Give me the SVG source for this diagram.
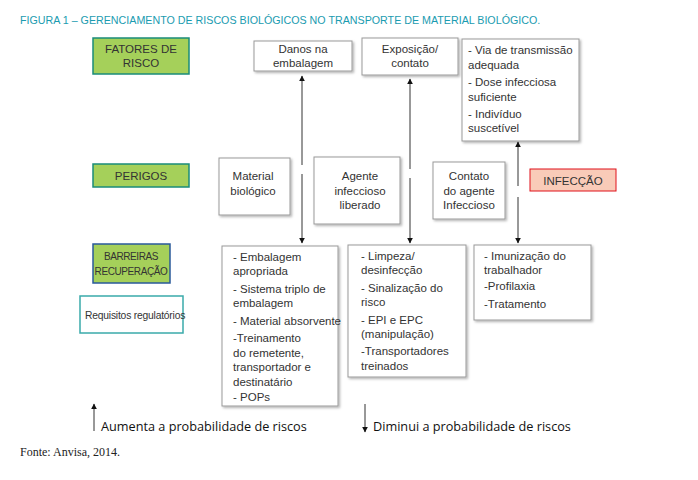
<svg xmlns="http://www.w3.org/2000/svg" width="698" height="480" viewBox="0 0 698 480">
<style>
text{font-family:"Liberation Sans",Arial,sans-serif;font-size:11.5px;fill:#333}
.b{fill:#fff;stroke:#999;stroke-width:1;filter:url(#sh)}
.g{fill:#a5d05a;stroke:#1a8c7a;stroke-width:1.5}
.c{text-anchor:middle}
.ln{stroke:#333;stroke-width:1;fill:none}
.lg{font-family:"Open Sans","Liberation Sans",sans-serif;font-size:12.7px;fill:#111}
</style>
<defs>
<filter id="sh" x="-10%" y="-10%" width="130%" height="130%"><feDropShadow dx="1.5" dy="1.5" stdDeviation="1" flood-color="#000" flood-opacity="0.3"/></filter>
<marker id="ah" viewBox="0 0 10 10" refX="9" refY="5" markerWidth="6" markerHeight="6" orient="auto-start-reverse"><path d="M0,0L10,5L0,10z" fill="#111"/></marker>
</defs>
<text x="20" y="24" style="fill:#1a9bb0;font-size:10.7px">FIGURA 1 – GERENCIAMENTO DE RISCOS BIOLÓGICOS NO TRANSPORTE DE MATERIAL BIOLÓGICO.</text>
<g id="fatores"><rect class="g" x="93" y="38" width="96" height="36"/><text class="c" x="141" y="53">FATORES DE</text><text class="c" x="141" y="67">RISCO</text></g>
<g id="perigos"><rect class="g" x="93" y="164" width="96" height="23"/><text class="c" x="141" y="180">PERIGOS</text></g>
<g id="barreiras"><rect x="93" y="244" width="77" height="39" fill="#a5d05a" stroke="#2a5a9a" stroke-width="1.5"/><text class="c" x="131" y="260" style="font-size:10px;letter-spacing:-0.4px">BARREIRAS</text><text class="c" x="131" y="275" style="font-size:10px;letter-spacing:-0.4px">RECUPERAÇÃO</text></g>
<g id="requisitos"><rect x="80" y="296" width="103" height="37" fill="#fff" stroke="#3aaaaa" stroke-width="1.5"/><text x="85" y="319" style="font-size:10.3px;letter-spacing:-0.2px">Requisitos regulatórios</text></g>
<g id="danos"><rect class="b" x="254" y="41" width="98" height="30"/><text class="c" x="303" y="53">Danos na</text><text class="c" x="303" y="67">embalagem</text></g>
<g id="exposicao"><rect class="b" x="362" y="38" width="96" height="37"/><text class="c" x="410" y="53">Exposição/</text><text class="c" x="410" y="67">contato</text></g>
<g id="via"><rect class="b" x="462" y="39" width="117" height="102"/>
<text x="468" y="54">- Via de transmissão</text><text x="468" y="69">adequada</text><text x="468" y="86">- Dose infecciosa</text><text x="468" y="101">suficiente</text><text x="468" y="118">- Indivíduo</text><text x="468" y="132">suscetível</text></g>
<g id="material"><rect class="b" x="219" y="158" width="71" height="57"/><text class="c" x="253" y="180">Material</text><text class="c" x="253" y="195">biológico</text></g>
<g id="agente"><rect class="b" x="314" y="157" width="86" height="67"/><text class="c" x="360" y="180">Agente</text><text class="c" x="360" y="195">infeccioso</text><text class="c" x="360" y="209">liberado</text></g>
<g id="contato"><rect class="b" x="433" y="162" width="72" height="57"/><text class="c" x="469" y="180">Contato</text><text class="c" x="469" y="195">do agente</text><text class="c" x="469" y="209">Infeccioso</text></g>
<g id="infeccao"><rect x="530" y="169" width="86" height="22" fill="#f9cbb8" stroke="#e0101a" stroke-width="1"/><text class="c" x="573" y="185">INFECÇÃO</text></g>
<g id="embalagem"><rect class="b" x="222" y="246" width="116" height="160"/>
<text x="233" y="261">- Embalagem</text><text x="233" y="275">apropriada</text><text x="233" y="293">- Sistema triplo de</text><text x="233" y="307">embalagem</text><text x="233" y="325">- Material absorvente</text><text x="233" y="342">-Treinamento</text><text x="233" y="357">do remetente,</text><text x="233" y="371">transportador e</text><text x="233" y="386">destinatário</text><text x="233" y="401">- POPs</text></g>
<g id="limpeza"><rect class="b" x="348" y="245" width="118" height="132"/>
<text x="361" y="260">- Limpeza/</text><text x="361" y="274">desinfecção</text><text x="361" y="292">- Sinalização do</text><text x="361" y="306">risco</text><text x="361" y="324">- EPI e EPC</text><text x="361" y="338">(manipulação)</text><text x="361" y="355">-Transportadores</text><text x="361" y="370">treinados</text></g>
<g id="imunizacao"><rect class="b" x="474" y="245" width="117" height="75"/>
<text x="484" y="260">- Imunização do</text><text x="484" y="274">trabalhador</text><text x="484" y="290">-Profilaxia</text><text x="484" y="308">-Tratamento</text></g>
<g id="connectors">
<line class="ln" x1="302" y1="165" x2="302" y2="76" marker-end="url(#ah)"/>
<line class="ln" x1="302" y1="174" x2="302" y2="243" marker-end="url(#ah)"/>
<line class="ln" x1="410" y1="169" x2="410" y2="79" marker-end="url(#ah)"/>
<line class="ln" x1="410" y1="178" x2="410" y2="243" marker-end="url(#ah)"/>
<line class="ln" x1="518" y1="186" x2="518" y2="142" marker-end="url(#ah)"/>
<line class="ln" x1="518" y1="197" x2="518" y2="243" marker-end="url(#ah)"/>
<line class="ln" x1="94" y1="431" x2="94" y2="404" marker-end="url(#ah)"/>
<line class="ln" x1="365" y1="404" x2="365" y2="432" marker-end="url(#ah)"/>
</g>
<text class="lg" x="101" y="431">Aumenta a probabilidade de riscos</text>
<text class="lg" x="373" y="431">Diminui a probabilidade de riscos</text>
<text x="20" y="456" style="font-family:'Liberation Serif',serif;font-size:12px;fill:#222">Fonte: Anvisa, 2014.</text>
</svg>
